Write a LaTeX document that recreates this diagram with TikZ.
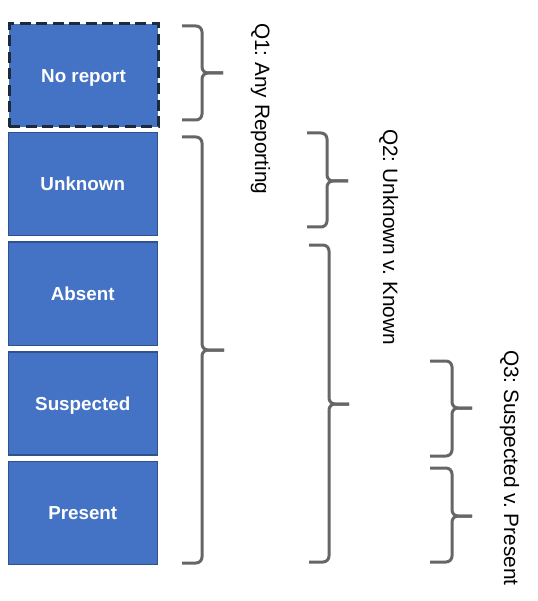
\documentclass[tikz,border=0pt]{standalone}
\usepackage{fontspec}
\newfontfamily\labfont{Liberation Sans}
\definecolor{boxblue}{RGB}{68,114,196}
\definecolor{boxedge}{RGB}{47,82,143}
\definecolor{dashedge}{RGB}{28,42,60}
\definecolor{bracegray}{RGB}{102,102,102}
\newcommand{\qbrace}[6]{% x0 xv xt ytop ymid ybot
  \draw[bracestyle] (#1,#4) -- (#2,#4) -- (#2,#5) -- (#3,#5);
  \draw[bracestyle] (#3,#5) -- (#2,#5) -- (#2,#6) -- (#1,#6);
}
\frenchspacing
\begin{document}
\begin{tikzpicture}[x=1pt,y=-1pt,
  cat/.style={draw=boxedge, fill=boxblue, line width=1.5pt,
    minimum width=149pt, minimum height=103pt, inner sep=0pt,
    anchor=north west, text=white,
    font=\labfont\fontsize{18.8pt}{20pt}\selectfont\bfseries,
    text height=13.5pt, text depth=0pt},
  dashcat/.style={cat, draw=dashedge, line width=3pt, dash pattern=on 11pt off 5.5pt},
  bracestyle/.style={draw=bracegray, line width=3pt, rounded corners=6pt, line cap=butt},
  qlabel/.style={inner sep=0pt, anchor=base west, rotate=-90, text=black,
    font=\labfont\fontsize{20.8pt}{22pt}\selectfont\frenchspacing}]
\useasboundingbox (0,0) rectangle (537,601);
\fill[white] (0,0) rectangle (537,601);

\node[dashcat] (noreport) at (7.5,22.5) {No report};
\node[cat] (unknown) at (7.5,132) {Unknown};
\node[cat] (absent) at (7.5,241.5) {Absent};
\node[cat] (suspected) at (7.5,351) {Suspected};
\node[cat] (present) at (7.5,460.5) {Present};

\qbrace{182}{202}{223}{26}{73}{120}
\qbrace{182}{202}{224}{137}{350}{563}
\qbrace{307}{327}{348}{133}{181}{227}
\qbrace{309}{329}{349}{245}{404}{562}
\qbrace{430}{452}{472}{361}{408}{456}
\qbrace{430}{452}{472}{468}{516}{562}

\node[qlabel] (q1) at (255,23) {Q1: Any Reporting};
\node[qlabel] (q2) at (383,129) {Q2: Unknown v. Known};
\node[qlabel] (q3) at (504,350) {Q3: Suspected v. Present};
\end{tikzpicture}
\end{document}
